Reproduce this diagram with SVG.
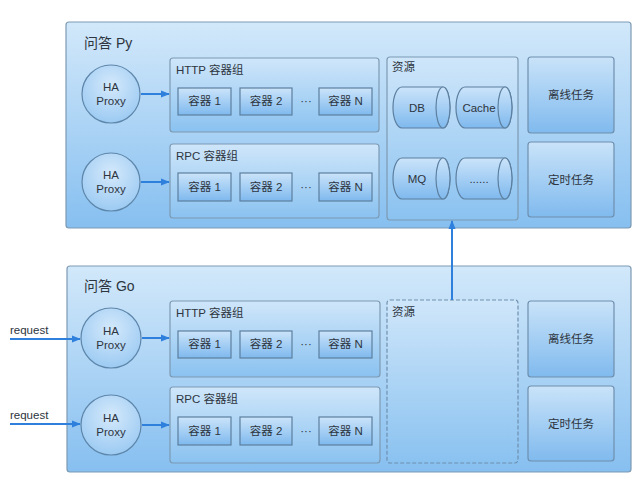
<svg xmlns="http://www.w3.org/2000/svg" width="640" height="482" viewBox="0 0 640 482">
<defs>
<linearGradient id="gOuter" x1="0" y1="0" x2="0" y2="1"><stop offset="0" stop-color="#d2e8fa"/><stop offset="1" stop-color="#86bff0"/></linearGradient>
<linearGradient id="gBox" x1="0" y1="0" x2="0" y2="1"><stop offset="0" stop-color="#cfe6fa"/><stop offset="1" stop-color="#8ac2f0"/></linearGradient>
<linearGradient id="gItem" x1="0" y1="0" x2="0" y2="1"><stop offset="0" stop-color="#cbe4fa"/><stop offset="1" stop-color="#7fb9ee"/></linearGradient>
<linearGradient id="gTask" x1="0" y1="0" x2="0" y2="1"><stop offset="0" stop-color="#c9e3f9"/><stop offset="1" stop-color="#80baee"/></linearGradient>
<radialGradient id="gCirc" cx="0.5" cy="0.35" r="0.7"><stop offset="0" stop-color="#d4e9fb"/><stop offset="1" stop-color="#98c8f2"/></radialGradient>
<marker id="arr" viewBox="0 0 10 10" refX="9" refY="5" markerWidth="9" markerHeight="9" orient="auto" markerUnits="userSpaceOnUse"><path d="M0,1 L10,5 L0,9 z" fill="#2f80dd"/></marker>
</defs>
<style>
.outer{fill:url(#gOuter);stroke:#7d9ab3;stroke-width:1.2}
.box{fill:url(#gBox);stroke:#7d9ab3;stroke-width:1.2}
.dash{fill:url(#gBox);stroke:#6f8fae;stroke-width:1.2;stroke-dasharray:4 2}
.item{fill:url(#gItem);stroke:#5c7f9f;stroke-width:1.2}
.task{fill:url(#gTask);stroke:#6f8fae;stroke-width:1.2}
.circ{fill:url(#gCirc);stroke:#5e86aa;stroke-width:1.2}
.cyl{fill:url(#gItem);stroke:#5c7f9f;stroke-width:1.2}
.t{font-family:"Liberation Sans","Noto Sans CJK SC",sans-serif;fill:#2d3540}
.title{font-size:14px}
.lbl{font-size:11.5px}
.sm{font-size:11.5px;text-anchor:middle}
.conn{stroke:#2f80dd;stroke-width:2;fill:none}
</style>

<g id="py">
<rect class="outer" x="66" y="22" width="565" height="206" rx="3"/>
<text class="t title" x="84" y="48">问答 Py</text>
</g>
<g id="py-proxy1"><circle class="circ" cx="111" cy="94" r="29"/><text class="t sm" x="111" y="91">HA</text><text class="t sm" x="111" y="105">Proxy</text></g>
<g id="py-proxy2"><circle class="circ" cx="111" cy="182" r="29"/><text class="t sm" x="111" y="179">HA</text><text class="t sm" x="111" y="193">Proxy</text></g>
<g id="py-http">
<rect class="box" x="170" y="58" width="209" height="74" rx="3"/>
<text class="t lbl" x="176" y="74">HTTP 容器组</text>
<rect class="item" x="178" y="88" width="53" height="27"/><text class="t sm" x="204.5" y="105">容器 1</text>
<rect class="item" x="240" y="88" width="52" height="27"/><text class="t sm" x="266" y="105">容器 2</text>
<text class="t sm" x="306" y="105">···</text>
<rect class="item" x="319" y="88" width="53" height="27"/><text class="t sm" x="345.5" y="105">容器 N</text>
</g>
<g id="py-rpc">
<rect class="box" x="170" y="144" width="209" height="74" rx="3"/>
<text class="t lbl" x="176" y="160">RPC 容器组</text>
<rect class="item" x="178" y="173" width="53" height="28"/><text class="t sm" x="204.5" y="191">容器 1</text>
<rect class="item" x="240" y="173" width="52" height="28"/><text class="t sm" x="266" y="191">容器 2</text>
<text class="t sm" x="306" y="191">···</text>
<rect class="item" x="319" y="173" width="53" height="28"/><text class="t sm" x="345.5" y="191">容器 N</text>
</g>
<g id="py-res">
<rect class="box" x="387" y="57" width="131" height="163" rx="3"/>
<text class="t lbl" x="392" y="71">资源</text>
<g id="py-db"><path class="cyl" d="M402,87 H443 A7,20.5 0 0 1 443,128 H402 A9,20.5 0 0 1 402,87 Z"/><ellipse class="cyl" cx="443" cy="107.5" rx="7" ry="20.5"/><text class="t sm" x="417" y="112">DB</text></g>
<g id="py-cache"><path class="cyl" d="M465,87 H505 A7,20.5 0 0 1 505,128 H465 A9,20.5 0 0 1 465,87 Z"/><ellipse class="cyl" cx="505" cy="107.5" rx="7" ry="20.5"/><text class="t sm" x="479" y="112">Cache</text></g>
<g id="py-mq"><path class="cyl" d="M402,158 H443 A7,20.5 0 0 1 443,199 H402 A9,20.5 0 0 1 402,158 Z"/><ellipse class="cyl" cx="443" cy="178.5" rx="7" ry="20.5"/><text class="t sm" x="417" y="183">MQ</text></g>
<g id="py-more"><path class="cyl" d="M465,158 H505 A7,20.5 0 0 1 505,199 H465 A9,20.5 0 0 1 465,158 Z"/><ellipse class="cyl" cx="505" cy="178.5" rx="7" ry="20.5"/><text class="t sm" x="479" y="183">......</text></g>
</g>
<g id="py-offline"><rect class="task" x="528" y="57" width="86" height="76" rx="3"/><text class="t sm" x="571" y="99">离线任务</text></g>
<g id="py-cron"><rect class="task" x="528" y="142" width="86" height="75" rx="3"/><text class="t sm" x="571" y="184">定时任务</text></g>

<g id="go">
<rect class="outer" x="67" y="266" width="564" height="206" rx="3"/>
<text class="t title" x="84" y="291">问答 Go</text>
</g>
<g id="go-proxy1"><circle class="circ" cx="111" cy="338" r="30"/><text class="t sm" x="111" y="335">HA</text><text class="t sm" x="111" y="349">Proxy</text></g>
<g id="go-proxy2"><circle class="circ" cx="111" cy="425" r="30"/><text class="t sm" x="111" y="422">HA</text><text class="t sm" x="111" y="436">Proxy</text></g>
<g id="go-http">
<rect class="box" x="170" y="301" width="210" height="76" rx="3"/>
<text class="t lbl" x="176" y="317">HTTP 容器组</text>
<rect class="item" x="178" y="331" width="53" height="27"/><text class="t sm" x="204.5" y="348">容器 1</text>
<rect class="item" x="240" y="331" width="52" height="27"/><text class="t sm" x="266" y="348">容器 2</text>
<text class="t sm" x="306" y="348">···</text>
<rect class="item" x="319" y="331" width="53" height="27"/><text class="t sm" x="345.5" y="348">容器 N</text>
</g>
<g id="go-rpc">
<rect class="box" x="170" y="387" width="210" height="76" rx="3"/>
<text class="t lbl" x="176" y="403">RPC 容器组</text>
<rect class="item" x="178" y="417" width="53" height="28"/><text class="t sm" x="204.5" y="435">容器 1</text>
<rect class="item" x="240" y="417" width="52" height="28"/><text class="t sm" x="266" y="435">容器 2</text>
<text class="t sm" x="306" y="435">···</text>
<rect class="item" x="319" y="417" width="53" height="28"/><text class="t sm" x="345.5" y="435">容器 N</text>
</g>
<g id="go-res">
<rect class="dash" x="387" y="300" width="131" height="163" rx="3"/>
<text class="t lbl" x="392" y="316">资源</text>
</g>
<g id="go-offline"><rect class="task" x="528" y="301" width="86" height="76" rx="3"/><text class="t sm" x="571" y="343">离线任务</text></g>
<g id="go-cron"><rect class="task" x="528" y="386" width="86" height="75" rx="3"/><text class="t sm" x="571" y="428">定时任务</text></g>

<text class="t lbl" x="10" y="334">request</text>
<text class="t lbl" x="10" y="419">request</text>

<g id="connectors">
<line class="conn" x1="141" y1="94" x2="169" y2="94" marker-end="url(#arr)"/>
<line class="conn" x1="141" y1="182" x2="169" y2="182" marker-end="url(#arr)"/>
<line class="conn" x1="142" y1="338" x2="169" y2="338" marker-end="url(#arr)"/>
<line class="conn" x1="142" y1="425" x2="169" y2="425" marker-end="url(#arr)"/>
<line class="conn" x1="10" y1="339" x2="80" y2="339" marker-end="url(#arr)"/>
<line class="conn" x1="10" y1="424" x2="80" y2="424" marker-end="url(#arr)"/>
<line class="conn" x1="452" y1="300" x2="452" y2="221" marker-end="url(#arr)"/>
</g>
</svg>
